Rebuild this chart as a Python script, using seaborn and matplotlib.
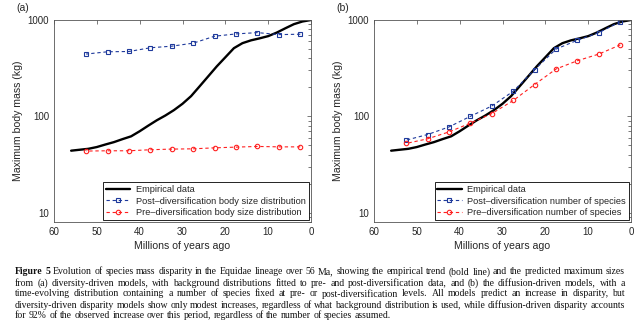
import matplotlib
matplotlib.use("Agg")
import matplotlib.pyplot as plt
import seaborn as sns
from matplotlib.ticker import LogLocator, NullFormatter, NullLocator

# Ages (Ma) at which the model predictions are evaluated
model_age = [52.5, 47.5, 42.5, 37.5, 32.5, 27.5, 22.5, 17.5, 12.5, 7.5, 2.5]

# Empirical maximum body mass trajectory (kg)
emp_age = [56, 54, 52, 50, 48, 46, 44, 42, 40, 38, 36, 34, 32, 30, 28,
           26, 24, 22, 20, 18, 16, 14, 12, 10, 8, 6, 4, 2, 0]
emp_mass = [44, 45, 46, 48, 51, 54, 58, 62, 70, 80, 91, 102, 116, 135, 162,
            205, 260, 330, 410, 510, 575, 615, 645, 680, 740, 820, 905, 965, 1000]

# (a) diversity-driven models
a_post = [443, 468, 471, 515, 535, 575, 679, 717, 740, 705, 712]
a_pre = [43.6, 43.9, 43.9, 45.0, 45.7, 46.0, 47.1, 47.9, 48.7, 48.2, 48.2]

# (b) diffusion-driven models
b_post = [56.6, 64.7, 77.6, 100, 128, 182, 305, 499, 617, 740, 960]
b_pre = [52.3, 58.4, 68.9, 84.9, 106.7, 146, 214, 310, 378, 443, 552]

labels_a = ["Empirical data",
            "Post\u2013diversification body size distribution",
            "Pre\u2013diversification body size distribution"]
labels_b = ["Empirical data",
            "Post\u2013diversification number of species",
            "Pre\u2013diversification number of species"]

x_ticks = [60, 50, 40, 30, 20, 10, 0]
y_ticks = [10, 100, 1000]
y_ticklabels = ["10", "100", "1000"]

caption_lines = [
    "Figure 5 Evolution of species mass disparity in the Equidae lineage over 56 Ma, showing the empirical trend (bold line) and the predicted maximum sizes",
    "from (a) diversity-driven models, with background distributions fitted to pre- and post-diversification data, and (b) the diffusion-driven models, with a",
    "time-evolving distribution containing a number of species fixed at pre- or post-diversification levels. All models predict an increase in disparity, but",
    "diversity-driven disparity models show only modest increases, regardless of what background distribution is used, while diffusion-driven disparity accounts",
    "for 92% of the observed increase over this period, regardless of the number of species assumed.",
]

sns.set_style("white")
plt.rcParams["font.family"] = ["Liberation Sans", "DejaVu Sans"]

W, H, DPI = 640, 328, 100
fig = plt.figure(figsize=(W / DPI, H / DPI), dpi=DPI)
fig.patch.set_facecolor("white")

BLUE = "#1f3a9c"
RED = "#ff2020"

ax_a = fig.add_axes([54 / W, 1 - 222 / H, 257 / W, 202 / H])
ax_b = fig.add_axes([374 / W, 1 - 222 / H, 257 / W, 202 / H])


def draw_panel(ax, post, pre, labels, tag, tag_x):
    sns.lineplot(x=emp_age, y=emp_mass, ax=ax, color="black", lw=1.7,
                 label=labels[0])
    sns.lineplot(x=model_age, y=post, ax=ax, color=BLUE, lw=0.8,
                 linestyle=(0, (3, 2.5)), marker="s", markersize=3,
                 markerfacecolor="none", markeredgecolor=BLUE,
                 markeredgewidth=0.8, label=labels[1])
    sns.lineplot(x=model_age, y=pre, ax=ax, color=RED, lw=0.8,
                 linestyle=(0, (3, 2.5)), marker="o", markersize=3.2,
                 markerfacecolor="none", markeredgecolor=RED,
                 markeredgewidth=0.8, label=labels[2])
    ax.set_yscale("log")
    ax.set_xlim(60, 0)
    ax.set_ylim(8, 1000)
    ax.set_xticks(x_ticks)
    ax.set_xticklabels([str(v) for v in x_ticks])
    ax.xaxis.set_minor_locator(NullLocator())
    ax.set_yticks(y_ticks)
    ax.set_yticklabels(y_ticklabels)
    ax.yaxis.set_minor_locator(LogLocator(base=10, subs=range(2, 10)))
    ax.yaxis.set_minor_formatter(NullFormatter())
    ax.tick_params(which="both", direction="in", top=True, right=True,
                   labelsize=7.0, color="#444444", width=0.5, pad=3.5)
    ax.tick_params(which="major", length=3)
    ax.tick_params(which="minor", length=2)
    for s in ax.spines.values():
        s.set_visible(True)
        s.set_color("#555555")
        s.set_linewidth(0.6)
    ax.set_xlabel("Millions of years ago", fontsize=7.6, labelpad=3)
    ax.set_ylabel("Maximum body mass (kg)", fontsize=7.6, labelpad=3)
    leg = ax.legend(loc="lower right", fontsize=6.7, frameon=True,
                    fancybox=False, edgecolor="black", framealpha=1,
                    borderpad=0.3, labelspacing=0.25, handlelength=2.6,
                    handletextpad=0.6, borderaxespad=0.25)
    leg.get_frame().set_linewidth(0.6)
    fig.text(tag_x / W, 1 - 8 / H, tag, fontsize=7.5, ha="left", va="center")


draw_panel(ax_a, a_post, a_pre, labels_a, "(a)", 16)
draw_panel(ax_b, b_post, b_pre, labels_b, "(b)", 336)

# Justified caption set word by word
cap_left, cap_right = 15, 625
cap_y = [272, 283, 294, 305, 316]
cap_size = 7.05
fig.canvas.draw()
renderer = fig.canvas.get_renderer()
probe = fig.text(0, 0, "a a", fontsize=cap_size, family="Liberation Serif")
probe2 = fig.text(0, 0, "aa", fontsize=cap_size, family="Liberation Serif")
space_w = (probe.get_window_extent(renderer).width
           - probe2.get_window_extent(renderer).width)
probe.remove()
probe2.remove()

for i, line in enumerate(caption_lines):
    words = line.split(" ")
    items = []
    for j, w in enumerate(words):
        bold = (i == 0 and j < 2)
        t = fig.text(0, 1 - cap_y[i] / H, w, fontsize=cap_size,
                     family="Liberation Serif",
                     fontweight="bold" if bold else "normal",
                     ha="left", va="center", color="#111111")
        items.append(t)
    widths = [t.get_window_extent(renderer).width for t in items]
    if i == len(caption_lines) - 1:
        gap = space_w
    else:
        gap = max(space_w * 0.6,
                  (cap_right - cap_left - sum(widths)) / (len(words) - 1))
    x = cap_left
    for t, w in zip(items, widths):
        t.set_x(x / W)
        x += w + gap

fig.savefig("out.png", dpi=DPI)
